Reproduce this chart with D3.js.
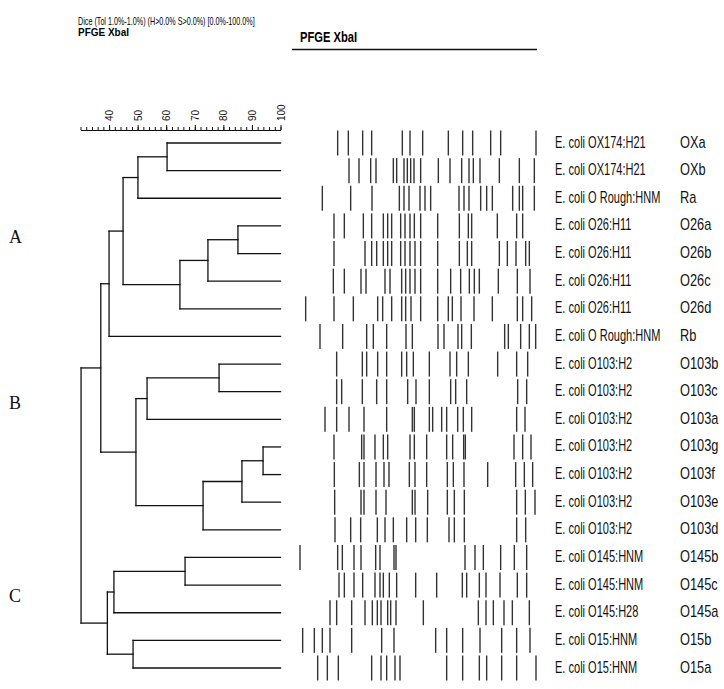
<!DOCTYPE html>
<html><head><meta charset="utf-8">
<script src="https://cdn.jsdelivr.net/npm/d3@7"></script>
<style>body{margin:0;background:#fff}svg{display:block}</style>
</head><body>
<svg id="chart" width="724" height="689"></svg>
<script>
// ---- data ----
const strains = ["E. coli OX174:H21","E. coli OX174:H21","E. coli O Rough:HNM","E. coli O26:H11","E. coli O26:H11","E. coli O26:H11","E. coli O26:H11","E. coli O Rough:HNM","E. coli O103:H2","E. coli O103:H2","E. coli O103:H2","E. coli O103:H2","E. coli O103:H2","E. coli O103:H2","E. coli O103:H2","E. coli O145:HNM","E. coli O145:HNM","E. coli O145:H28","E. coli O15:HNM","E. coli O15:HNM"];
const isolates = ["OXa","OXb","Ra","O26a","O26b","O26c","O26d","Rb","O103b","O103c","O103a","O103g","O103f","O103e","O103d","O145b","O145c","O145a","O15b","O15a"];
// band positions along the gel lane (relative units 0-780)
const bands = [
 [143,175,218,245,337,360,398,475,518,548,602,632,738],
 [177,207,242,258,310,320,342,352,362,372,392,445,480,515,537,550,570,628,688,733],
 [97,182,246,328,342,357,390,405,422,507,522,537,572,590,607,668,688,698,733],
 [132,163,220,245,280,293,305,332,345,360,373,392,443,508,535,545,622,680,698],
 [132,225,245,260,280,293,305,332,345,360,375,392,443,508,532,545,628,652,678,707,718],
 [130,163,213,228,285,300,335,347,360,375,392,443,482,512,538,553,568,625,682,720],
 [47,132,190,263,278,305,335,347,363,392,443,475,487,513,552,607,682,698,725],
 [90,158,230,250,290,348,367,444,462,504,515,544,644,655,692,718,737],
 [140,217,230,263,290,335,350,370,418,480,500,535,623,680,713],
 [140,155,217,260,290,353,378,418,482,497,530,683,710],
 [105,140,177,222,290,367,373,418,428,455,470,503,520,545,680,705],
 [132,215,222,255,280,293,360,373,410,470,488,521,526,672,698,723],
 [133,208,222,258,282,297,358,375,410,472,490,522,593,677,703,728],
 [134,213,222,258,288,367,375,413,472,493,523,680,706,735],
 [135,182,212,262,285,310,350,377,412,477,493,523,680,707],
 [30,143,157,192,213,257,270,312,318,525,555,580,632,673,710],
 [147,163,192,218,255,270,280,298,320,377,440,517,530,568,588,630,682,710],
 [120,140,185,225,247,262,273,293,302,318,400,565,588,610,642,667,718],
 [38,73,97,120,185,275,312,437,470,518,570,635,680,720],
 [83,112,145,245,273,290,315,330,470,518,568,590,635,680,738]
];
// linkage: [childA, childB, similarity %]; new nodes numbered from 20
const merges = [
 [0,1,60.3],[20,2,50.1],[3,4,85.1],[22,5,74.6],[23,6,64.8],[21,24,44.9],[25,7,40.0],
 [8,9,78.5],[27,10,53.3],[11,12,93.9],[29,13,86.5],[30,14,72.9],[28,31,49.4],[26,32,37.1],
 [15,16,66.6],[34,17,41.7],[18,19,48.4],[35,36,39.4],[33,37,30.2]
];
const simTicks = [40,50,60,70,80,90,100];
const groupNames = ["A","B","C"];
const groupRows = [3.4, 9.4, 16.4];

// ---- scales ----
const svg = d3.select("#chart");
svg.append("rect").attr("width",724).attr("height",689).attr("fill","#fff");
const xSim = d3.scaleLinear().domain([30,100]).range([80.5,280.5]);
const yRow = d3.scaleLinear().domain([0,19]).range([143,668]);
const xLane = d3.scaleLinear().domain([0,780]).range([290,550]);

// ---- header ----
svg.append("text").attr("transform","translate(78,25) scale(0.72,1)")
  .attr("font-family","Liberation Sans, Arial, sans-serif").attr("font-size",10)
  .text("Dice (Tol 1.0%-1.0%) (H>0.0% S>0.0%) [0.0%-100.0%]");
svg.append("text").attr("transform","translate(78,36) scale(0.95,1)")
  .attr("font-family","Liberation Sans, Arial, sans-serif").attr("font-size",10.5).attr("font-weight","bold")
  .text("PFGE XbaI");
svg.append("text").attr("transform","translate(300,42) scale(0.8,1)")
  .attr("font-family","Liberation Sans, Arial, sans-serif").attr("font-size",14).attr("font-weight","bold")
  .text("PFGE XbaI");
svg.append("line").attr("x1",292).attr("x2",537).attr("y1",49.5).attr("y2",49.5)
  .attr("stroke","#111").attr("stroke-width",1.5);

// ---- similarity axis ----
const axisY = 130;
const minor = svg.append("g").attr("transform",`translate(0,${axisY})`)
  .call(d3.axisTop(xSim).tickValues(d3.range(30,101,2)).tickSize(3).tickFormat(""));
minor.select(".domain").remove();
const ax = svg.append("g").attr("transform",`translate(0,${axisY})`)
  .call(d3.axisTop(xSim).tickValues(simTicks).tickSize(5).tickSizeOuter(0));
ax.select(".domain").attr("stroke","#111").attr("stroke-width",1.2);
svg.selectAll(".tick line").attr("stroke","#111");
ax.selectAll(".tick text")
  .attr("transform","rotate(-90)").attr("x",9).attr("y",0).attr("dy","0.35em")
  .attr("text-anchor","start").attr("font-size",10).attr("fill","#111")
  .attr("font-family","Liberation Sans, Arial, sans-serif");

// ---- dendrogram ----
const nodes = isolates.map((d,i)=>({sim:100, y:yRow(i)}));
merges.forEach(([a,b,s])=>{
  const A = nodes[a], B = nodes[b];
  nodes.push({sim:s, children:[A,B], y:(A.y+B.y)/2});
});
const segs = [];
nodes.forEach(n=>{
  if(!n.children) return;
  const x = xSim(n.sim);
  segs.push([x, n.children[0].y, x, n.children[1].y]);
  n.children.forEach(c=> segs.push([x, c.y, xSim(c.sim), c.y]));
});
svg.append("g").selectAll("line").data(segs).join("line")
  .attr("x1",d=>d[0]).attr("y1",d=>d[1]).attr("x2",d=>d[2]).attr("y2",d=>d[3])
  .attr("stroke","#111").attr("stroke-width",1.3).attr("stroke-linecap","square");

// ---- gel bands ----
const lanes = svg.append("g").selectAll("g").data(bands).join("g")
  .attr("transform",(d,i)=>`translate(0,${yRow(i)})`);
lanes.selectAll("line").data(d=>d).join("line")
  .attr("x1",d=>xLane(d)).attr("x2",d=>xLane(d)).attr("y1",-12.5).attr("y2",12.5)
  .attr("stroke","#333").attr("stroke-width",1.4);

// ---- labels ----
svg.append("g").selectAll("text").data(strains).join("text")
  .attr("transform",(d,i)=>`translate(555,${yRow(i)+4.5}) scale(0.69,1)`)
  .attr("font-family","Liberation Sans, Arial, sans-serif").attr("font-size",16).attr("fill","#111")
  .text(d=>d);
svg.append("g").selectAll("text").data(isolates).join("text")
  .attr("transform",(d,i)=>`translate(680,${yRow(i)+4.5}) scale(0.8,1)`)
  .attr("font-family","Liberation Sans, Arial, sans-serif").attr("font-size",16).attr("fill","#111")
  .text(d=>d);

// ---- cluster letters ----
svg.append("g").selectAll("text").data(groupNames).join("text")
  .attr("x",9).attr("y",(d,i)=>yRow(groupRows[i])+6)
  .attr("font-family","Liberation Serif, Times New Roman, serif").attr("font-size",18).attr("fill","#111")
  .text(d=>d);
</script>
</body></html>
